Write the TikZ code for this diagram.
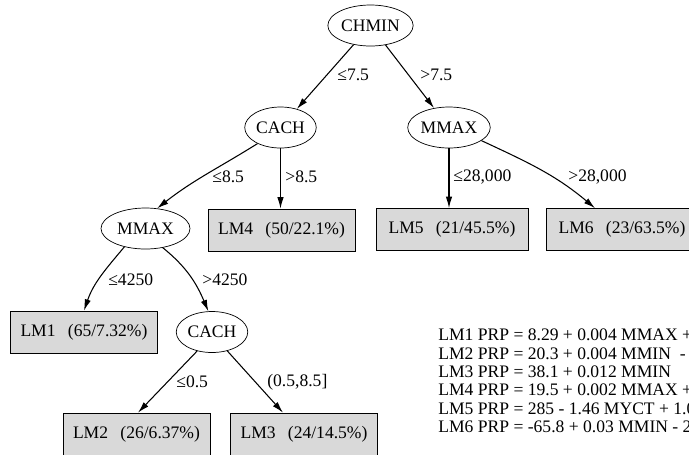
\documentclass[tikz,border=0pt]{standalone}
\usepackage{fontspec}
\setmainfont{Liberation Serif}
\usetikzlibrary{shapes.geometric,arrows.meta}
\definecolor{leafgray}{RGB}{217,217,217}
\tikzset{split/.style = {draw, fill=white, ellipse, inner xsep=0.5pt, inner ysep=0pt, minimum height=0.82cm},
         leaf/.style = {draw, fill=leafgray, rectangle, minimum height=0.84cm, minimum width=2.94cm},
         branch/.style = {semithick, -{Latex[length=6.5pt,width=3.6pt]}},
         cond/.style = {anchor=west, inner sep=0pt}}

\begin{document}
\begin{tikzpicture}[x=0.02cm, y=-0.02cm]
    \useasboundingbox (0,0) rectangle (689,454);
    % tests
    \node[split](chmin)at(370.5,25.5){CHMIN};
    \node[split](cachA)at(280.5,127.5){CACH};
    \node[split](mmaxB)at(449,127.5){MMAX};
    \node[split, minimum width=1.78cm](mmaxA)at(145.5,228.5){MMAX};
    \node[split](cachB)at(212,332){CACH};
    % linear models
    \node[leaf](lm1)at(84,332){LM1\hspace{0.7em}(65/7.32\%)};
    \node[leaf](lm2)at(136.5,434){LM2\hspace{0.7em}(26/6.37\%)};
    \node[leaf](lm3)at(304,434){LM3\hspace{0.7em}(24/14.5\%)};
    \node[leaf](lm4)at(281.5,230){LM4\hspace{0.7em}(50/22.1\%)};
    \node[leaf, minimum width=3.04cm](lm5)at(452,229.5){LM5\hspace{0.7em}(21/45.5\%)};
    \node[leaf, minimum width=3.04cm](lm6)at(622,229.5){LM6\hspace{0.7em}(23/63.5\%)};
    % branches
    \draw[branch](chmin)--(cachA);
    \draw[branch](chmin)--(mmaxB);
    \draw[branch](cachA.-145) to[out=-148,in=38] (mmaxA.60);
    \draw[branch](cachA.south)--(cachA.south |- lm4.north);
    \draw[branch](mmaxB.south)--(mmaxB.south |- lm5.north);
    \draw[branch](mmaxB.-22) to[out=-25,in=140] ([xshift=-0.54cm]lm6.north);
    \draw[branch](mmaxA.-139) to[out=-130,in=71] (lm1.north);
    \draw[branch](mmaxA.-48) to[out=-39,in=113] (cachB.100);
    \draw[branch](cachB.-128)--([xshift=0.03cm]lm2.north);
    \draw[branch](cachB.-51)--([xshift=-0.42cm]lm3.north);
    % split values
    \node[cond](c1)at(337,75){≤7.5};
    \node[cond](c2)at(420,75){>7.5};
    \node[cond](c3)at(212,177){≤8.5};
    \node[cond](c4)at(285,177){>8.5};
    \node[cond](c5)at(453,177){≤28,000};
    \node[cond](c6)at(568,177){>28,000};
    \node[cond](c7)at(108,280){≤4250};
    \node[cond](c8)at(202,280){>4250};
    \node[cond](c9)at(176,382){≤0.5};
    \node[cond](c10)at(267,382){(0.5,8.5]};
    % model equations
    \node[cond, align=left, font=\fontsize{10}{10.45}\selectfont](eqs)at(438,381){LM1 PRP = 8.29 + 0.004 MMAX +\\
        LM2 PRP = 20.3 + 0.004 MMIN\ \ -\\
        LM3 PRP = 38.1 + 0.012 MMIN\\
        LM4 PRP = 19.5 + 0.002 MMAX +\\
        LM5 PRP = 285 - 1.46 MYCT + 1.0\\
        LM6 PRP = -65.8 + 0.03 MMIN - 2};
\end{tikzpicture}
\end{document}
